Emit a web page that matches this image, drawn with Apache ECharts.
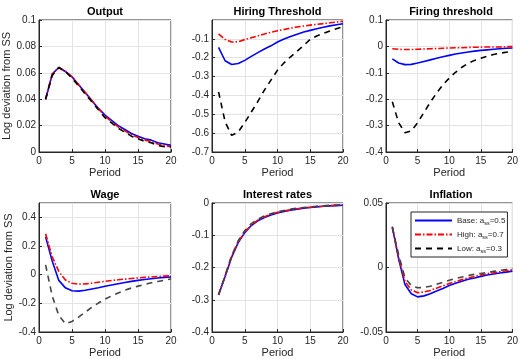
<!DOCTYPE html>
<html>
<head>
<meta charset="utf-8">
<script src="https://cdn.jsdelivr.net/npm/echarts@6/dist/echarts.min.js"></script>
<style>
  html, body { margin: 0; padding: 0; background: #fff; }
  #chart { width: 521px; height: 359px; }
</style>
</head>
<body>
<div id="chart"></div>
<script>
// periods on the x axis
const periods = [1, 2, 3, 4, 5, 6, 7, 8, 9, 10, 11, 12, 13, 14, 15, 16, 17, 18, 19, 20];

// Output
const outputBase = [0.040, 0.059, 0.064, 0.061, 0.057, 0.051, 0.045, 0.039, 0.033, 0.028, 0.024, 0.020, 0.017, 0.014, 0.012, 0.010, 0.009, 0.007, 0.006, 0.005];
const outputHigh = [0.040, 0.059, 0.064, 0.061, 0.057, 0.051, 0.045, 0.039, 0.033, 0.027, 0.023, 0.019, 0.016, 0.013, 0.011, 0.009, 0.008, 0.006, 0.005, 0.004];
const outputLow  = [0.040, 0.058, 0.064, 0.061, 0.056, 0.050, 0.044, 0.038, 0.032, 0.026, 0.022, 0.018, 0.015, 0.012, 0.010, 0.008, 0.007, 0.005, 0.004, 0.004];

// Hiring threshold
const hiringBase = [-0.145, -0.216, -0.236, -0.231, -0.214, -0.193, -0.173, -0.154, -0.137, -0.117, -0.101, -0.087, -0.075, -0.064, -0.055, -0.046, -0.038, -0.031, -0.025, -0.020];
const hiringHigh = [-0.074, -0.103, -0.117, -0.115, -0.104, -0.094, -0.084, -0.074, -0.065, -0.057, -0.050, -0.043, -0.037, -0.032, -0.027, -0.023, -0.019, -0.015, -0.011, -0.007];
const hiringLow  = [-0.381, -0.540, -0.612, -0.594, -0.544, -0.488, -0.432, -0.372, -0.319, -0.266, -0.227, -0.195, -0.165, -0.135, -0.102, -0.085, -0.071, -0.058, -0.046, -0.035];

// Firing threshold
const firingBase = [-0.047, -0.063, -0.069, -0.068, -0.063, -0.057, -0.051, -0.045, -0.039, -0.034, -0.029, -0.025, -0.021, -0.018, -0.015, -0.013, -0.011, -0.009, -0.007, -0.006];
const firingHigh = [-0.009, -0.011, -0.012, -0.012, -0.011, -0.010, -0.009, -0.008, -0.007, -0.006, -0.005, -0.005, -0.004, -0.003, -0.003, -0.002, -0.002, -0.002, -0.001, -0.001];
const firingLow  = [-0.210, -0.289, -0.327, -0.320, -0.289, -0.250, -0.212, -0.177, -0.146, -0.120, -0.098, -0.079, -0.064, -0.053, -0.045, -0.037, -0.031, -0.026, -0.022, -0.019];

// Wage
const wageBase = [0.265, 0.095, -0.040, -0.092, -0.112, -0.115, -0.109, -0.100, -0.091, -0.081, -0.072, -0.063, -0.055, -0.047, -0.040, -0.034, -0.028, -0.023, -0.019, -0.016];
const wageHigh = [0.285, 0.125, 0.023, -0.037, -0.060, -0.066, -0.064, -0.059, -0.053, -0.047, -0.041, -0.036, -0.031, -0.027, -0.023, -0.019, -0.016, -0.013, -0.010, -0.008];
const wageLow  = [0.068, -0.148, -0.285, -0.342, -0.326, -0.296, -0.262, -0.228, -0.198, -0.171, -0.148, -0.128, -0.109, -0.093, -0.080, -0.068, -0.057, -0.048, -0.039, -0.030];

// Interest rates
const rateBase = [-0.285, -0.228, -0.168, -0.123, -0.092, -0.070, -0.055, -0.045, -0.037, -0.031, -0.026, -0.022, -0.019, -0.016, -0.014, -0.012, -0.010, -0.009, -0.008, -0.007];
const rateHigh = [-0.285, -0.227, -0.166, -0.121, -0.090, -0.068, -0.053, -0.043, -0.035, -0.029, -0.025, -0.021, -0.018, -0.015, -0.013, -0.011, -0.010, -0.008, -0.007, -0.006];
const rateLow  = [-0.284, -0.225, -0.163, -0.117, -0.086, -0.064, -0.050, -0.040, -0.033, -0.027, -0.023, -0.019, -0.016, -0.014, -0.012, -0.010, -0.009, -0.007, -0.006, -0.005];

// Inflation
const inflBase = [0.0317, 0.0065, -0.0132, -0.0203, -0.0228, -0.0220, -0.0203, -0.0183, -0.0162, -0.0140, -0.0122, -0.0107, -0.0091, -0.0081, -0.0069, -0.0058, -0.0051, -0.0043, -0.0036, -0.0028];
const inflHigh = [0.0312, 0.0080, -0.0107, -0.0175, -0.0195, -0.0190, -0.0178, -0.0160, -0.0142, -0.0124, -0.0110, -0.0094, -0.0081, -0.0069, -0.0058, -0.0048, -0.0041, -0.0033, -0.0025, -0.0018];
const inflLow  = [0.0310, 0.0100, -0.0080, -0.0140, -0.0157, -0.0155, -0.0145, -0.0130, -0.0114, -0.0099, -0.0086, -0.0074, -0.0063, -0.0053, -0.0046, -0.0038, -0.0030, -0.0023, -0.0015, -0.0008];

const panelTitles = ['Output', 'Hiring Threshold', 'Firing threshold', 'Wage', 'Interest rates', 'Inflation'];
const legendNames = ['Base: a_ss=0.5', 'High: a_ss=0.7', 'Low: a_ss=0.3'];

const panels = [
  { title: panelTitles[0], data: [outputBase, outputHigh, outputLow], min: 0, max: 0.1, interval: 0.02 },
  { title: panelTitles[1], data: [hiringBase, hiringHigh, hiringLow], min: -0.7, max: 0, interval: 0.1, hideMax: true },
  { title: panelTitles[2], data: [firingBase, firingHigh, firingLow], min: -0.4, max: 0.1, interval: 0.1 },
  { title: panelTitles[3], data: [wageBase, wageHigh, wageLow], min: -0.4, max: 0.5, interval: 0.2, hideMax: true },
  { title: panelTitles[4], data: [rateBase, rateHigh, rateLow], min: -0.4, max: 0, interval: 0.1 },
  { title: panelTitles[5], data: [inflBase, inflHigh, inflLow], min: -0.05, max: 0.05, interval: 0.05 }
];

const grids = [
  { left: 39, top: 20, width: 132, height: 132 },
  { left: 212, top: 20, width: 131, height: 132 },
  { left: 386, top: 20, width: 130, height: 132 },
  { left: 39, top: 203, width: 132, height: 131 },
  { left: 212, top: 203, width: 131, height: 131 },
  { left: 386, top: 203, width: 130, height: 131 }
];

const axisColor = '#262626';
const gridColor = '#e3e3e3';
const font = 'Liberation Sans, Arial, sans-serif';

const chart = echarts.init(document.getElementById('chart'));

const title = [];
const xAxis = [];
const yAxis = [];
const series = [];

panels.forEach((p, i) => {
  const g = grids[i];
  title.push({
    text: p.title,
    left: g.left + g.width / 2,
    top: g.top - 14,
    padding: 0,
    textAlign: 'center',
    textStyle: { fontFamily: font, fontSize: 11, fontWeight: 'bold', color: '#000' }
  });
  xAxis.push({
    gridIndex: i,
    type: 'value',
    min: 0, max: 20, interval: 5,
    name: 'Period',
    nameLocation: 'middle',
    nameGap: 15,
    nameTextStyle: { fontFamily: font, fontSize: 11, color: axisColor },
    axisLine: { onZero: false, lineStyle: { color: axisColor } },
    axisTick: { inside: true, length: 3, lineStyle: { color: axisColor } },
    axisLabel: { fontFamily: font, fontSize: 10, color: axisColor, margin: 4 },
    splitLine: { show: true, lineStyle: { color: gridColor } }
  });
  yAxis.push({
    gridIndex: i,
    type: 'value',
    min: p.min, max: p.max, interval: p.interval,
    name: (i % 3 === 0) ? 'Log deviation from SS' : '',
    nameLocation: 'middle',
    nameGap: 21,
    nameTextStyle: { fontFamily: font, fontSize: 11, color: axisColor },
    axisLine: { show: true, onZero: false, lineStyle: { color: axisColor } },
    axisTick: { show: true, inside: true, length: 3, lineStyle: { color: axisColor } },
    axisLabel: {
      fontFamily: font, fontSize: 10, color: axisColor, margin: 3,
      showMaxLabel: !p.hideMax
    },
    splitLine: { show: true, lineStyle: { color: gridColor } }
  });
  const dark = i < 3 ? '#000' : '#444';
  const styles = [
    { color: '#0000ff', type: 'solid', width: 1.6 },
    { color: '#ff0000', type: [6, 2, 1.5, 2], width: 1.6 },
    { color: dark, type: [6, 5], width: 1.6 }
  ];
  p.data.forEach((vals, k) => {
    series.push({
      type: 'line',
      name: legendNames[k],
      xAxisIndex: i,
      yAxisIndex: i,
      symbol: 'none',
      silent: true,
      z: 3 + k,
      lineStyle: styles[k],
      itemStyle: { color: styles[k].color },
      data: periods.map((t, j) => [t, vals[j]])
    });
  });
});

chart.setOption({
  animation: false,
  backgroundColor: '#fff',
  title: title,
  grid: grids.map(g => Object.assign({ show: true, borderColor: axisColor, borderWidth: 1, backgroundColor: 'transparent' }, g)),
  xAxis: xAxis,
  yAxis: yAxis,
  legend: {
    data: legendNames,
    orient: 'vertical',
    left: 411,
    top: 212,
    padding: [3, 2, 3, 3],
    itemGap: 3,
    itemWidth: 37,
    itemHeight: 11,
    backgroundColor: '#fff',
    borderColor: axisColor,
    borderWidth: 1,
    borderRadius: 0,
    selectedMode: false,
    itemStyle: { opacity: 0 },
    formatter: function (name) {
      const parts = name.split('_ss');
      return '{a|' + parts[0] + '}{s|ss}{a|' + parts[1] + '}';
    },
    textStyle: {
      rich: {
        a: { fontFamily: font, fontSize: 8, color: axisColor, lineHeight: 12 },
        s: { fontFamily: font, fontSize: 5.5, color: axisColor, lineHeight: 12, padding: [5, 0, 0, 0] }
      }
    }
  },
  series: series
});
</script>
</body>
</html>
